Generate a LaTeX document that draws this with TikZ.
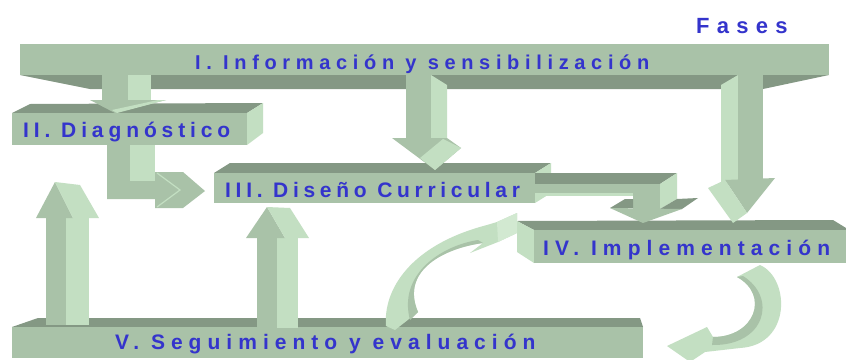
\documentclass[tikz,border=0pt]{standalone}
\usepackage{fontspec}
\setmainfont{Liberation Sans}
\definecolor{gdk}{HTML}{849884}
\definecolor{gmd}{HTML}{A9C2A8}
\definecolor{glt}{HTML}{C3DFC2}
\definecolor{ghl}{HTML}{D2E9D1}
\definecolor{tblue}{HTML}{3434CC}
\begin{document}
\begin{tikzpicture}[x=1pt,y=-1pt,
  fd/.style={fill=gdk,draw=none},
  fm/.style={fill=gmd,draw=none},
  fl/.style={fill=glt,draw=none},
  fh/.style={fill=ghl,draw=none},
  lbl/.style={text=tblue,font=\bfseries,inner sep=0pt,anchor=base west}]
\useasboundingbox[fill=white] (0,0) rectangle (846,359);
% Bar I
\fill[fm] (20,44) rectangle (829,75);
\fill[fd] (20,75) -- (829,75) -- (763,89) -- (90,89) -- cycle;
% Bar II
\fill[fd] (12,113) -- (30,104) -- (263,103) -- (247,113) -- cycle;
\fill[fm] (12,113) rectangle (247,145);
\fill[fl] (247,113) -- (263,103) -- (263,133) -- (247,145) -- cycle;
% Bar III
\fill[fd] (214,173) -- (230,163) -- (551,163) -- (535,173) -- cycle;
\fill[fm] (214,173) rectangle (535,203);
\fill[fl] (535,173) -- (551,163) -- (551,193) -- (535,203) -- cycle;
% Bar IV
\fill[fd] (517,221) -- (833,220) -- (846,228) -- (846,230) -- (534,230) -- cycle;
\fill[fl] (517,221) -- (534,230) -- (534,263) -- (517,252) -- cycle;
\fill[fm] (534,230) rectangle (846,263);
% Bar V
\fill[fd] (12,327) -- (38,318) -- (640,318) -- (643,327) -- cycle;
\fill[fm] (12,327) rectangle (643,358);
% Arrow I -> II
\fill[fm] (102,75) rectangle (128,100);
\fill[fl] (128,75) rectangle (151,100);
\fill[fm] (90,100) -- (166,100) -- (115,113) -- cycle;
\fill[fl] (112,110) -- (158,100) -- (166,100) -- (117,113) -- cycle;
% Arrow I -> III
\fill[fm] (406,75) rectangle (431,138);
\fill[fl] (431,75) -- (447,85) -- (447,138) -- (431,138) -- cycle;
\fill[fm] (392,138) -- (447,138) -- (461,148) -- (435,170) -- cycle;
\fill[fl] (420,158) -- (443,139) -- (461,148) -- (435,170) -- cycle;
% Arrow I -> IV
\fill[fl] (721,85) -- (738,75) -- (738,182) -- (721,188) -- cycle;
\fill[fm] (738,75) rectangle (763,182);
\fill[fm] (725,180) -- (775,178) -- (747,213) -- cycle;
\fill[fl] (708,188) -- (725,180) -- (747,213) -- (733,223) -- cycle;
% Arrow II -> III
\fill[fm] (107,145) -- (130,145) -- (130,181) -- (155,181) -- (155,172) -- (183,172) -- (205,191) -- (183,208) -- (155,208) -- (155,199) -- (107,199) -- cycle;
\fill[fl] (130,145) rectangle (155,181);
\draw[glt, line width=1.2pt] (157,173) -- (180,190) -- (157,207);
% Arrow III -> IV
\fill[fd] (535,173) -- (677,173) -- (660,184) -- (535,184) -- cycle;
\fill[fm] (535,184) rectangle (660,193);
\fill[fl] (535,193) rectangle (633,196);
\fill[fm] (633,193) rectangle (660,209);
\fill[fl] (660,184) -- (677,173) -- (677,199) -- (660,209) -- cycle;
\fill[fd] (610,208) -- (625,199) -- (633,199) -- (633,208) -- cycle;
\fill[fd] (660,209) -- (677,199) -- (698,198) -- (682,209) -- cycle;
\fill[fm] (610,208) -- (682,209) -- (643,223) -- cycle;
% Up arrow V -> II
\fill[fm] (46,218) rectangle (66,325);
\fill[fl] (66,218) rectangle (89,325);
\fill[fm] (36,218) -- (55,182) -- (73,218) -- cycle;
\fill[fl] (55,182) -- (80,185) -- (99,218) -- (73,218) -- cycle;
% Up arrow V -> III
\fill[fm] (257,238) rectangle (277,328);
\fill[fl] (277,238) rectangle (298,328);
\fill[fm] (246,238) -- (267,207) -- (285,238) -- cycle;
\fill[fl] (267,207) -- (290,208) -- (309,238) -- (285,238) -- cycle;
% Curved arrow V -> IV
\fill[fl] (386,326) .. controls (383,290) and (410,245) .. (487,225) -- (497,222) -- (517,213) -- (517,233) -- (498,242) -- (470,253) -- (483,243) .. controls (445,248) and (400,270) .. (418,312) -- (395,330) -- cycle;
\fill[fm] (483,243) .. controls (445,248) and (400,270) .. (418,312) -- (410,320) .. controls (398,275) and (440,246) .. (478,240) -- cycle;
\fill[fh] (497,222) -- (517,213) -- (517,233) -- (498,242) -- cycle;
% Curved arrow IV -> V
\fill[fl] (737,277) -- (760,265) .. controls (790,278) and (792,345) .. (740,348) -- (705,352) -- (690,362) -- (667,346) -- (707,327) -- (713,337) .. controls (755,337) and (770,295) .. (737,277) -- cycle;
\fill[fm] (713,337) .. controls (755,337) and (770,295) .. (737,277) -- (743,276) .. controls (778,298) and (765,346) .. (712,345) -- cycle;
% Texts
\node[lbl] (fases) at (696,33) {\fontsize{22}{26}\selectfont\addfontfeature{LetterSpace=33}Fases};
\node[lbl] (t1) at (195,69) {\fontsize{20}{24}\selectfont\addfontfeature{LetterSpace=28.3}I. Información y sensibilización};
\node[lbl] (t2) at (23,137) {\fontsize{21}{25}\selectfont\addfontfeature{LetterSpace=23.3}II. Diagnóstico};
\node[lbl] (t3) at (225,197) {\fontsize{21}{25}\selectfont\addfontfeature{LetterSpace=22.4}III. Diseño Curricular};
\node[lbl] (t4) at (543,255) {\fontsize{21}{25}\selectfont\addfontfeature{LetterSpace=29}IV. Implementación};
\node[lbl] (t5) at (115,349) {\fontsize{21}{25}\selectfont\addfontfeature{LetterSpace=28.7}V. Seguimiento y evaluación};
\end{tikzpicture}
\end{document}
